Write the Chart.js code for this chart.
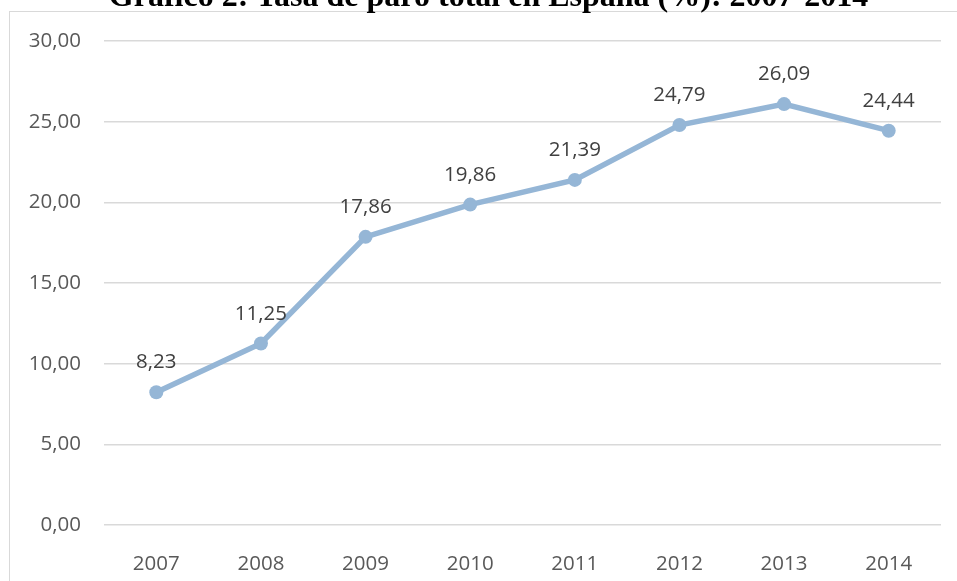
<!DOCTYPE html>
<html>
<head>
<meta charset="utf-8">
<script src="https://cdn.jsdelivr.net/npm/chart.js@4.4.1/dist/chart.umd.min.js"></script>
<style>
    html, body { margin: 0; padding: 0; background: #fff; overflow: hidden; }
    #wrap { position: relative; width: 957px; height: 581px; }
    #frame {
        position: absolute; left: 9px; top: 11px; width: 960px; height: 600px;
        border-left: 1px solid #d9d9d9; border-top: 1px solid #d9d9d9;
    }
    #title {
        position: absolute; left: 0; width: 977px; top: -23px;
        text-align: center; font-family: "Liberation Serif", "Times New Roman", serif;
        font-weight: bold; font-size: 32px; line-height: 36px; color: #000;
        white-space: nowrap;
    }
    canvas { position: absolute; left: 0; top: 0; }
</style>
</head>
<body>
<div id="wrap">
    <div id="frame"></div>
    <canvas id="chart" width="957" height="581"></canvas>
    <div id="title">Gráfico 2: Tasa de paro total en España (%): 2007-2014</div>
</div>
<script>
(function () {
    'use strict';

    /* ---------- data ---------- */
    var years = ['2007', '2008', '2009', '2010', '2011', '2012', '2013', '2014'];
    var paro = [8.23, 11.25, 17.86, 19.86, 21.39, 24.79, 26.09, 24.44];
    var yTickLabels = ['0,00', '5,00', '10,00', '15,00', '20,00', '25,00', '30,00'];

    var lineColor = '#95b6d6';
    var font = '"Open Sans", "DejaVu Sans", sans-serif';

    function fmt(v) {
        return v.toFixed(2).replace('.', ',');
    }

    // value labels above each point
    var valueLabels = {
        id: 'valueLabels',
        afterDatasetsDraw: function (chart) {
            var ctx = chart.ctx;
            var meta = chart.getDatasetMeta(0);
            ctx.save();
            ctx.font = '20.5px ' + font;
            ctx.fillStyle = '#404040';
            ctx.textAlign = 'center';
            ctx.textBaseline = 'alphabetic';
            meta.data.forEach(function (pt, i) {
                ctx.fillText(fmt(paro[i]), pt.x, pt.y - 24);
            });
            ctx.restore();
        }
    };

    new Chart(document.getElementById('chart').getContext('2d'), {
        type: 'line',
        data: {
            labels: years,
            datasets: [{
                data: paro,
                borderColor: lineColor,
                backgroundColor: lineColor,
                borderWidth: 5.5,
                pointRadius: 7,
                pointBorderWidth: 0,
                pointBackgroundColor: lineColor,
                tension: 0
            }]
        },
        options: {
            responsive: false,
            animation: false,
            layout: { padding: { left: 0, right: 16, top: 41, bottom: 0 } },
            plugins: {
                legend: { display: false },
                tooltip: { enabled: false },
                title: { display: false }
            },
            scales: {
                x: {
                    offset: true,
                    grid: { display: false },
                    border: { display: false },
                    ticks: {
                        font: { family: font, size: 20.5 },
                        color: '#595959',
                        padding: 19
                    },
                    afterFit: function (s) { s.height = 56; }
                },
                y: {
                    min: 0,
                    max: 30,
                    border: { display: false },
                    grid: { color: '#d9d9d9', lineWidth: 1.5, drawTicks: false },
                    ticks: {
                        stepSize: 5,
                        font: { family: font, size: 20.5 },
                        color: '#595959',
                        padding: 23,
                        callback: function (v) { return yTickLabels[Math.round(v / 5)]; }
                    },
                    afterFit: function (s) { s.width = 104; }
                }
            }
        },
        plugins: [valueLabels]
    });
})();
</script>
</body>
</html>
